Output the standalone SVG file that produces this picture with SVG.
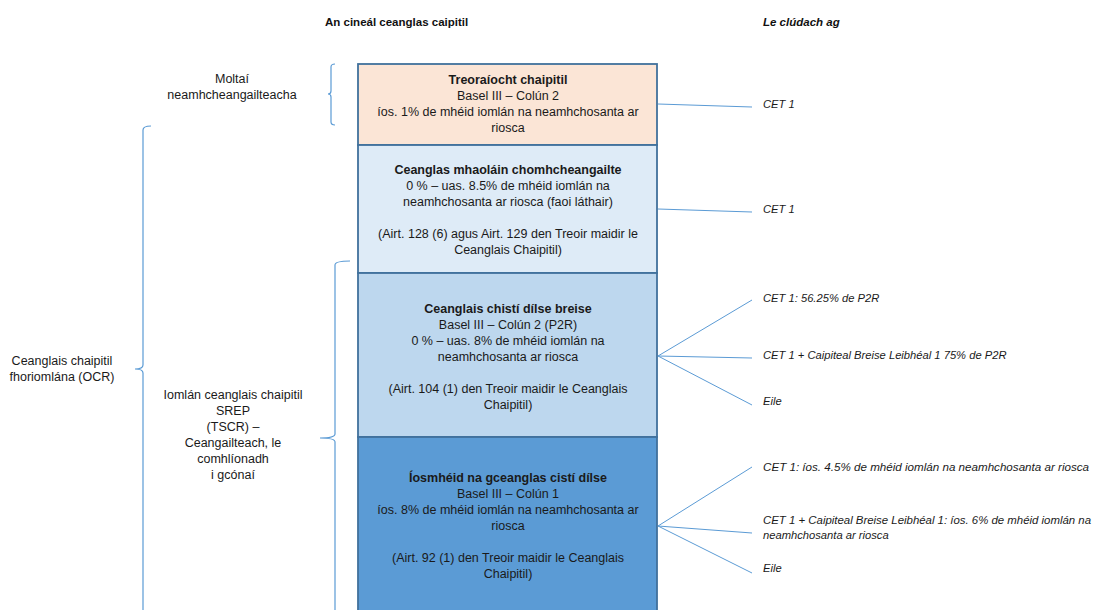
<svg xmlns="http://www.w3.org/2000/svg" width="1096" height="610" viewBox="0 0 1096 610">
<style>
.t{font-family:"Liberation Sans",Arial,sans-serif;font-size:12.5px;fill:#1a1a1a;text-anchor:middle}
.b{font-weight:bold}
.h{font-family:"Liberation Sans",Arial,sans-serif;font-size:11.5px;font-weight:bold;fill:#111}
.r{font-family:"Liberation Sans",Arial,sans-serif;font-size:11.2px;font-style:italic;fill:#1a1a1a}
.box{stroke:#41719c;stroke-width:1.8}
.c{stroke:#5b9bd5;stroke-width:1;fill:none}
.br{stroke:#5b9bd5;stroke-width:1.2;fill:none}
</style>
<rect width="1096" height="610" fill="#fff"/>
<text class="h" x="325" y="26">An cineál ceanglas caipitil</text>
<text class="h" x="763" y="26" font-style="italic">Le clúdach ag</text>

<g id="brace-moltai">
<path class="br" d="M335,64 Q331,64 331,67 V91 Q331,94 328,94 Q331,94 331,97 V122 Q331,125 335,125"/>
<text class="t" x="232" y="83">Moltaí</text>
<text class="t" x="232" y="99">neamhcheangailteacha</text>
</g>
<g id="brace-ocr">
<path class="br" d="M151,126 Q143,126 143,130 V365 Q143,369 135,369 Q143,369 143,373 V612"/>
<text class="t" x="62" y="365">Ceanglais chaipitil</text>
<text class="t" x="62" y="381">fhoriomlána (OCR)</text>
</g>
<g id="brace-tscr">
<path class="br" d="M350,261 Q335,261 335,265 V434 Q335,438 320,438 Q335,438 335,442 V612"/>
<text class="t" x="233" y="399">Iomlán ceanglais chaipitil</text>
<text class="t" x="233" y="415">SREP</text>
<text class="t" x="233" y="431">(TSCR) –</text>
<text class="t" x="233" y="447">Ceangailteach, le</text>
<text class="t" x="233" y="463">comhlíonadh</text>
<text class="t" x="233" y="479">i gcónaí</text>
</g>

<g id="box1">
<rect class="box" x="358" y="64" width="299" height="81" fill="#fbe5d6"/>
<text class="t b" x="508" y="84">Treoraíocht chaipitil</text>
<text class="t" x="508" y="100">Basel III – Colún 2</text>
<text class="t" x="508" y="116">íos. 1% de mhéid iomlán na neamhchosanta ar</text>
<text class="t" x="508" y="132">riosca</text>
</g>
<g id="box2">
<rect class="box" x="358" y="145" width="299" height="128" fill="#deebf7"/>
<text class="t b" x="508" y="174">Ceanglas mhaoláin chomhcheangailte</text>
<text class="t" x="508" y="190">0 % – uas. 8.5% de mhéid iomlán na</text>
<text class="t" x="508" y="206">neamhchosanta ar riosca (faoi láthair)</text>
<text class="t" x="508" y="238">(Airt. 128 (6) agus Airt. 129 den Treoir maidir le</text>
<text class="t" x="508" y="254">Ceanglais Chaipitil)</text>
</g>
<g id="box3">
<rect class="box" x="358" y="273" width="299" height="164" fill="#bdd7ee"/>
<text class="t b" x="508" y="313">Ceanglais chistí dílse breise</text>
<text class="t" x="508" y="329">Basel III – Colún 2 (P2R)</text>
<text class="t" x="508" y="345">0 % – uas. 8% de mhéid iomlán na</text>
<text class="t" x="508" y="361">neamhchosanta ar riosca</text>
<text class="t" x="508" y="393">(Airt. 104 (1) den Treoir maidir le Ceanglais</text>
<text class="t" x="508" y="409">Chaipitil)</text>
</g>
<g id="box4">
<rect class="box" x="358" y="437" width="299" height="180" fill="#5b9bd5"/>
<text class="t b" x="508" y="482">Íosmhéid na gceanglas cistí dílse</text>
<text class="t" x="508" y="498">Basel III – Colún 1</text>
<text class="t" x="508" y="514">íos. 8% de mhéid iomlán na neamhchosanta ar</text>
<text class="t" x="508" y="530">riosca</text>
<text class="t" x="508" y="562">(Airt. 92 (1) den Treoir maidir le Ceanglais</text>
<text class="t" x="508" y="578">Chaipitil)</text>
</g>

<g id="connectors">
<path class="c" d="M658,104 L752,107"/>
<path class="c" d="M658,209 L752,212"/>
<path class="c" d="M658,356 L752,300 M658,356 L752,358 M658,356 L752,405"/>
<path class="c" d="M658,526 L752,467 M658,526 L752,533 M658,526 L752,573"/>
</g>

<g id="labels">
<text class="r" x="763" y="108">CET 1</text>
<text class="r" x="763" y="213">CET 1</text>
<text class="r" x="763" y="302">CET 1: 56.25% de P2R</text>
<text class="r" x="763" y="359">CET 1 + Caipiteal Breise Leibhéal 1 75% de P2R</text>
<text class="r" x="763" y="405">Eile</text>
<text class="r" x="763" y="471" textLength="326" lengthAdjust="spacingAndGlyphs">CET 1: íos. 4.5% de mhéid iomlán na neamhchosanta ar riosca</text>
<text class="r" x="763" y="524" textLength="328" lengthAdjust="spacingAndGlyphs">CET 1 + Caipiteal Breise Leibhéal 1: íos. 6% de mhéid iomlán na</text>
<text class="r" x="763" y="539">neamhchosanta ar riosca</text>
<text class="r" x="763" y="572">Eile</text>
</g>
</svg>
